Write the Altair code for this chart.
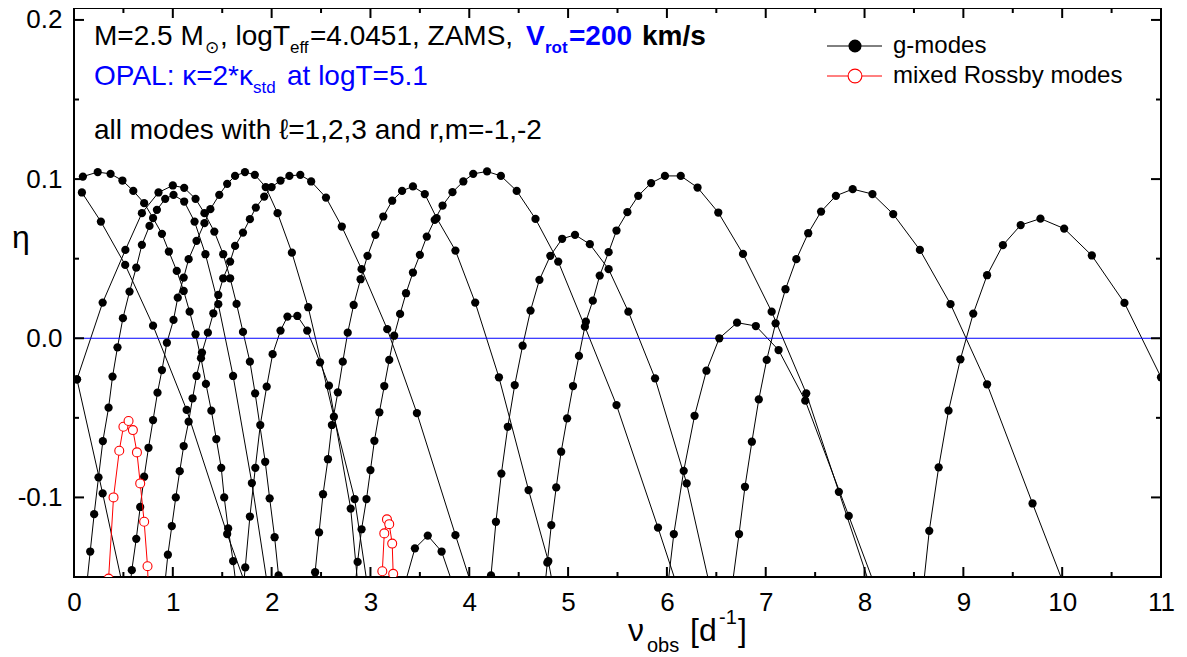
import altair as alt
import pandas as pd

FONT = "Liberation Sans, Arial, DejaVu Sans"

# ---------------- data (nu_obs [1/d], eta) ----------------
g01_x = [0.09, 0.24, 0.37, 0.49, 0.60, 0.71, 0.80, 0.89, 0.96, 1.04, 1.11, 1.17, 1.23, 1.285, 1.335, 1.39, 1.44, 1.49, 1.52, 1.56, 1.61, 1.66]
g01_y = [0.1016, 0.1044, 0.1033, 0.0991, 0.0926, 0.0849, 0.0755, 0.0656, 0.0545, 0.0423, 0.0297, 0.0167, 0.0025, -0.0125, -0.0287, -0.0455, -0.0633, -0.0814, -0.100, -0.1195, -0.140, -0.165]

g02_x = [0.03, 0.29, 0.52, 0.687, 0.855, 1.0, 1.115, 1.23, 1.32, 1.42, 1.51, 1.58, 1.645, 1.71, 1.78, 1.833, 1.935, 1.98, 2.03, 2.07, 2.11]
g02_y = [-0.0258, 0.0224, 0.0555, 0.0786, 0.0916, 0.096, 0.0945, 0.0876, 0.0786, 0.067, 0.0528, 0.0377, 0.0216, 0.004, -0.0147, -0.0346, -0.0776, -0.1006, -0.125, -0.149, -0.172]

g03_x = [0.08, 0.272, 0.518, 0.80, 1.14, 1.55, 2.0]
g03_y = [0.0916, 0.0733, 0.0461, 0.0079, -0.045, -0.123, -0.2]

g04_x = [0.03, 0.29, 0.56]
g04_y = [-0.0258, -0.0975, -0.175]

g05_x = [0.12, 0.164, 0.204, 0.248, 0.292, 0.35, 0.39, 0.44, 0.495, 0.562, 0.63, 0.687, 0.764, 0.839, 0.923, 1.007, 1.115, 1.22, 1.33, 1.46, 1.61, 1.80, 1.97]
g05_y = [-0.16, -0.134, -0.1105, -0.0874, -0.0646, -0.0436, -0.0241, -0.0057, 0.0126, 0.0293, 0.0444, 0.0587, 0.0706, 0.0807, 0.0876, 0.0901, 0.0859, 0.0733, 0.0528, 0.0214, -0.0237, -0.091, -0.16]

g06_x = [0.545, 0.585, 0.63, 0.67, 0.71, 0.754, 0.80, 0.845, 0.89, 0.94, 1.007, 1.05, 1.11, 1.16, 1.24, 1.32, 1.38, 1.47, 1.55, 1.63, 1.73, 1.83, 1.94, 2.06, 2.205, 2.37, 2.63, 2.84, 2.98]
g06_y = [-0.168, -0.1457, -0.126, -0.106, -0.087, -0.0688, -0.0514, -0.0342, -0.02, -0.0028, 0.0115, 0.0255, 0.0381, 0.0497, 0.0612, 0.0723, 0.0811, 0.0901, 0.097, 0.102, 0.1044, 0.1027, 0.095, 0.0786, 0.0538, 0.0195, -0.0493, -0.101, -0.16]

g07_x = [0.91, 0.95, 0.99, 1.03, 1.07, 1.11, 1.16, 1.20, 1.24, 1.295, 1.355, 1.41, 1.46, 1.51, 1.58, 1.63, 1.71, 1.78, 1.84, 1.925, 2.0, 2.09, 2.18, 2.29, 2.40, 2.55, 2.71, 2.91, 3.17, 3.47, 3.86, 4.10]
g07_y = [-0.16, -0.136, -0.118, -0.10, -0.0835, -0.0677, -0.0524, -0.0377, -0.0237, -0.009, 0.0035, 0.0157, 0.0272, 0.0377, 0.0482, 0.058, 0.0664, 0.0748, 0.0821, 0.089, 0.095, 0.0991, 0.102, 0.1027, 0.0985, 0.0884, 0.0702, 0.0434, 0.0057, -0.047, -0.1237, -0.17]

g08_x = [1.70, 1.733, 1.78, 1.835, 1.885, 1.95, 2.01, 2.09, 2.16, 2.26, 2.36, 2.49, 2.58, 2.80, 2.88]
g08_y = [-0.165, -0.144, -0.112, -0.0814, -0.0545, -0.0304, -0.01, 0.0048, 0.0136, 0.014, 0.0048, -0.0151, -0.0298, -0.107, -0.16]

g09_x = [2.40, 2.44, 2.48, 2.52, 2.57, 2.61, 2.67, 2.72, 2.77, 2.83, 2.90, 2.97, 3.05, 3.13, 3.22, 3.32, 3.43, 3.55, 3.67, 3.86, 4.06, 4.30, 4.60, 4.80, 4.86]
g09_y = [-0.168, -0.147, -0.122, -0.098, -0.076, -0.0545, -0.034, -0.0147, 0.0035, 0.0209, 0.0371, 0.0518, 0.065, 0.0765, 0.0864, 0.0926, 0.0954, 0.0906, 0.0755, 0.0551, 0.0224, -0.0245, -0.0954, -0.14, -0.16]

g10_x = [2.83, 2.87, 2.91, 2.96, 3.00, 3.04, 3.09, 3.14, 3.19, 3.24, 3.30, 3.36, 3.43, 3.50, 3.57, 3.65, 3.73, 3.83, 3.94, 4.04, 4.18, 4.32, 4.48, 4.67, 4.90, 5.17, 5.49, 5.91, 6.10]
g10_y = [-0.165, -0.1405, -0.12, -0.101, -0.0828, -0.0644, -0.0465, -0.03, -0.0136, 0.0016, 0.0153, 0.0283, 0.0413, 0.0524, 0.0639, 0.0744, 0.0834, 0.0918, 0.0985, 0.1033, 0.1048, 0.102, 0.0926, 0.075, 0.0482, 0.0073, -0.042, -0.119, -0.155]

g11_x = [4.18, 4.22, 4.27, 4.325, 4.39, 4.46, 4.54, 4.62, 4.71, 4.82, 4.94, 5.07, 5.22, 5.41, 5.61, 5.88, 6.20, 6.45]
g11_y = [-0.17, -0.149, -0.1153, -0.085, -0.0556, -0.0294, -0.0047, 0.0174, 0.0367, 0.0518, 0.0625, 0.065, 0.0591, 0.0434, 0.0167, -0.0252, -0.0912, -0.16]

g12_x = [4.75, 4.79, 4.83, 4.88, 4.93, 4.99, 5.05, 5.11, 5.18, 5.25, 5.32, 5.41, 5.49, 5.60, 5.71, 5.84, 5.98, 6.14, 6.31, 6.52, 6.77, 7.06, 7.41, 7.74, 8.08]
g12_y = [-0.165, -0.141, -0.1174, -0.0937, -0.0713, -0.0503, -0.03, -0.0111, 0.0104, 0.0236, 0.0394, 0.0541, 0.0677, 0.0792, 0.0895, 0.0975, 0.102, 0.102, 0.0947, 0.079, 0.053, 0.0167, -0.0346, -0.0965, -0.16]

g13_x = [6.0, 6.07, 6.17, 6.28, 6.40, 6.53, 6.71, 6.90, 7.13, 7.40, 7.84, 8.15]
g13_y = [-0.16, -0.123, -0.0833, -0.0487, -0.0204, 0.0, 0.0098, 0.0077, -0.0074, -0.0392, -0.1116, -0.163]

g14_x = [6.64, 6.73, 6.79, 6.86, 6.93, 7.01, 7.10, 7.20, 7.31, 7.43, 7.56, 7.71, 7.88, 8.08, 8.29, 8.56, 8.87, 9.24, 9.70, 10.05]
g14_y = [-0.165, -0.123, -0.0933, -0.065, -0.0384, -0.0136, 0.0094, 0.0308, 0.0497, 0.066, 0.0796, 0.0895, 0.0937, 0.0906, 0.078, 0.0555, 0.0214, -0.0289, -0.1038, -0.16]

g15_x = [8.58, 8.655, 8.75, 8.85, 8.97, 9.10, 9.24, 9.40, 9.58, 9.78, 10.02, 10.30, 10.63, 11.0, 11.4]
g15_y = [-0.165, -0.121, -0.0811, -0.0455, -0.0132, 0.0155, 0.0396, 0.0585, 0.0711, 0.0752, 0.0689, 0.052, 0.0222, -0.0245, -0.09]

g16_x = [3.30, 3.45, 3.58, 3.72, 3.88]
g16_y = [-0.165, -0.132, -0.124, -0.134, -0.163]

r01_x = [0.35, 0.40, 0.458, 0.50, 0.552, 0.596, 0.637, 0.67, 0.71, 0.744, 0.76]
r01_y = [-0.151, -0.10, -0.0707, -0.0556, -0.052, -0.0577, -0.0717, -0.0912, -0.1153, -0.1432, -0.17]

r02_x = [3.12, 3.14, 3.167, 3.19, 3.22, 3.23]
r02_y = [-0.1464, -0.1226, -0.1138, -0.1168, -0.129, -0.148]

x_major = list(range(12))
x_minor = [i + 0.5 for i in range(11)]
y_major = [-0.1, 0.0, 0.1, 0.2]
y_minor = [-0.05, 0.05, 0.15]

g_series = {
    "g01": (g01_x, g01_y), "g02": (g02_x, g02_y), "g03": (g03_x, g03_y),
    "g04": (g04_x, g04_y), "g05": (g05_x, g05_y), "g06": (g06_x, g06_y),
    "g07": (g07_x, g07_y), "g08": (g08_x, g08_y), "g09": (g09_x, g09_y),
    "g10": (g10_x, g10_y), "g11": (g11_x, g11_y), "g12": (g12_x, g12_y),
    "g13": (g13_x, g13_y), "g14": (g14_x, g14_y), "g15": (g15_x, g15_y),
    "g16": (g16_x, g16_y),
}
r_series = {"r01": (r01_x, r01_y), "r02": (r02_x, r02_y)}


def to_df(series):
    rows = []
    for name, (xs, ys) in series.items():
        for i, (a, b) in enumerate(zip(xs, ys)):
            rows.append({"nu": a, "eta": b, "s": name, "i": i})
    return pd.DataFrame(rows)


gdf = to_df(g_series)
rdf = to_df(r_series)

W, H = 1087, 569
xsc = alt.Scale(domain=[0, 11], nice=False, zero=False)
ysc = alt.Scale(domain=[-0.15, 0.2075], nice=False, zero=False)

xaxis = alt.Axis(values=x_major, labelFontSize=26, labelFont=FONT, labelColor="black",
                 ticks=False, domain=False, grid=False, title=None, labelPadding=12,
                 labelOverlap=False, labelFlush=False, labelBound=False, format="d")
yaxis = alt.Axis(values=y_major, labelFontSize=26, labelFont=FONT, labelColor="black",
                 ticks=False, domain=False, grid=False, title=None, labelPadding=12,
                 labelOverlap=False, labelFlush=False, labelBound=False,
                 labelExpr="datum.value < 0 ? '-' + format(-datum.value, '.1f') : format(datum.value, '.1f')")


def X(field):
    return alt.X(field, scale=xsc, axis=xaxis, title=None)


def Y(field):
    return alt.Y(field, scale=ysc, axis=yaxis, title=None)


one = pd.DataFrame({"a": [0]})

zero = alt.Chart(pd.DataFrame({"nu": [0.0, 11.0], "eta": [0.0, 0.0]})).mark_line(
    color="#0000ff", strokeWidth=1).encode(x=X("nu:Q"), y=Y("eta:Q"))

g_lines = alt.Chart(gdf).mark_line(color="black", strokeWidth=1, clip=True).encode(
    x=X("nu:Q"), y=Y("eta:Q"), detail="s:N", order="i:Q")
g_pts = alt.Chart(gdf).mark_circle(color="black", size=68, opacity=1, clip=True).encode(
    x=X("nu:Q"), y=Y("eta:Q"))
r_lines = alt.Chart(rdf).mark_line(color="red", strokeWidth=1, clip=True).encode(
    x=X("nu:Q"), y=Y("eta:Q"), detail="s:N", order="i:Q")
r_pts = alt.Chart(rdf).mark_point(shape="circle", filled=True, fill="white", stroke="red",
                                   strokeWidth=1.1, size=80, opacity=1, clip=True).encode(
    x=X("nu:Q"), y=Y("eta:Q"))


def xticks(vals, length):
    d = pd.DataFrame({"nu": vals})
    bot = alt.Chart(d).mark_rule(color="black", strokeWidth=2).encode(
        x=X("nu:Q"), y=alt.value(H), y2=alt.value(H - length))
    top = alt.Chart(d).mark_rule(color="black", strokeWidth=2).encode(
        x=X("nu:Q"), y=alt.value(0), y2=alt.value(length))
    return [bot, top]


def yticks(vals, length):
    d = pd.DataFrame({"eta": vals})
    left = alt.Chart(d).mark_rule(color="black", strokeWidth=2).encode(
        y=Y("eta:Q"), x=alt.value(0), x2=alt.value(length))
    right = alt.Chart(d).mark_rule(color="black", strokeWidth=2).encode(
        y=Y("eta:Q"), x=alt.value(W), x2=alt.value(W - length))
    return [left, right]


def txt(s, x, y, size=28, color="black", weight="normal", baseline="alphabetic"):
    return alt.Chart(one).mark_text(text=s, align="left", baseline=baseline, fontSize=size,
                                    font=FONT, color=color, fontWeight=weight).encode(
        x=alt.value(x), y=alt.value(y))


BLUE = "#0000ff"
texts = [
    txt("M=2.5 M", 20, 37),
    txt("\u2299", 131, 45, size=17),
    txt(", logT", 146, 37),
    txt("eff", 216, 45, size=17),
    txt("=4.0451, ZAMS,", 236, 37),
    txt("V", 452, 37, color=BLUE, weight="bold"),
    txt("rot", 471, 45, size=17, color=BLUE, weight="bold"),
    txt("=200", 495, 37, color=BLUE, weight="bold"),
    txt("km/s", 568, 37, weight="bold"),
    txt("OPAL: \u03ba=2*\u03ba", 20, 77, color=BLUE),
    txt("std", 179, 85, size=17, color=BLUE),
    txt("at logT=5.1", 213, 77, color=BLUE),
    txt("all modes with \u2113=1,2,3 and r,m=-1,-2", 20, 131),
    # axis titles
    txt("\u03bd", 554, 633, size=32),
    txt("obs", 573, 644, size=20),
    txt("[d", 616, 633, size=32),
    txt("-1", 645, 616, size=20),
    txt("]", 664, 633, size=32),
    txt("\u03b7", -62, 240, size=32),
    # legend
    txt("g-modes", 819, 38, size=24, baseline="middle"),
    txt("mixed Rossby modes", 819, 68, size=24, baseline="middle"),
]

legend = [
    alt.Chart(one).mark_rule(color="black", strokeWidth=1).encode(
        x=alt.value(753), x2=alt.value(808), y=alt.value(38)),
    alt.Chart(one).mark_point(shape="circle", filled=True, color="black", size=170, opacity=1).encode(
        x=alt.value(781), y=alt.value(38)),
    alt.Chart(one).mark_rule(color="red", strokeWidth=1).encode(
        x=alt.value(753), x2=alt.value(808), y=alt.value(68)),
    alt.Chart(one).mark_point(shape="circle", filled=True, fill="white", stroke="red",
                              strokeWidth=1.1, size=190, opacity=1).encode(
        x=alt.value(781), y=alt.value(68)),
]

layers = [g_lines, zero, g_pts, r_lines, r_pts] + xticks(x_major, 10) + xticks(x_minor, 5) \
    + yticks(y_major, 10) + yticks(y_minor, 5) + texts + legend

chart = alt.layer(*layers).properties(
    width=W, height=H,
    autosize=alt.AutoSizeParams(type="none"),
    padding={"left": 66, "top": 0, "right": 18, "bottom": 80},
).configure_view(stroke="black", strokeWidth=2)

chart.save("out.html", embed_options={"renderer": "svg", "actions": False})
